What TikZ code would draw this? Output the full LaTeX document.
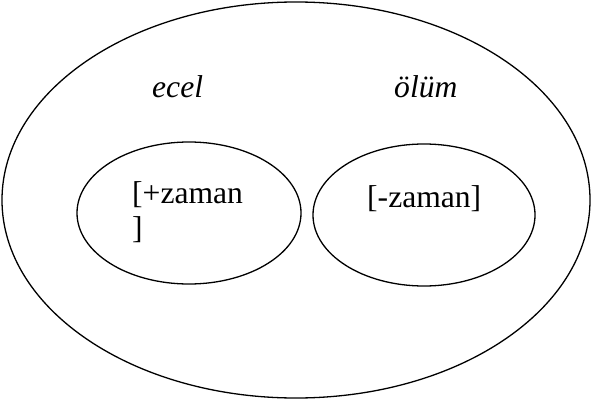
\documentclass[tikz,border=0pt]{standalone}
\usepackage{fontspec}
\setmainfont{Liberation Serif}
\usetikzlibrary{positioning}
\tikzset{
  kume/.style={draw=black,line width=1.3pt},
  etiket/.style={inner sep=0pt,anchor=base west,font=\fontsize{31.6}{35}\selectfont}
}
\begin{document}
\begin{tikzpicture}[x=1pt,y=-1pt]
            \useasboundingbox (0,0) rectangle (593,401);
            \coordinate (Ctum) at (296,200);
            \coordinate (Cecel) at (189,213);
            \coordinate (Colum) at (424,215);
            \draw[kume] (Ctum) ellipse (294 and 198);
            \draw[kume] (Cecel) ellipse (112 and 71);
            \draw[kume] (Colum) ellipse (111 and 71);
            \node[etiket] (ecel) at (152,97) {\textit{ecel}};
            \node[etiket] (olum) at (394,97) {\textit{ölüm}};
            % cok satirli dugumde base son satirda
            \node[etiket,align=left] (arti) at (132,238) {[+zaman\\]};
            \node[etiket] (eksi) at (367,207) {[-zaman]};
        \end{tikzpicture}
\end{document}
